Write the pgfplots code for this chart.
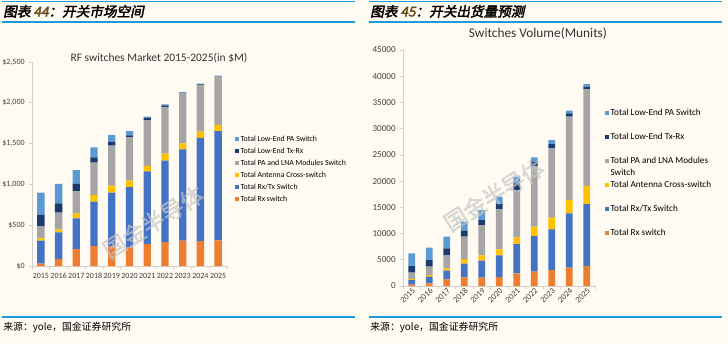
\documentclass[border=0pt]{standalone}
\usepackage{pgfplots}
\pgfplotsset{compat=1.18}
\usepackage{pgfplotstable}
\usepackage{fontspec}
\setmainfont{Carlito}
\newfontfamily\cjk{Noto Sans CJK SC}
\newfontfamily\cjkhead{Noto Sans CJK SC}[FakeSlant=0.2,FakeBold=2.5]
\newfontfamily\cjkwm{Noto Sans CJK SC}[FakeBold=2]
\definecolor{bg}{HTML}{FFFBF2}
\definecolor{hline}{HTML}{1A9BDC}
\definecolor{cRx}{HTML}{ED7D31}
\definecolor{cRxTx}{HTML}{4472C4}
\definecolor{cAnt}{HTML}{FFC000}
\definecolor{cPA}{HTML}{A5A5A5}
\definecolor{cTxRx}{HTML}{1B3A6E}
\definecolor{cLPA}{HTML}{5B9BD5}
\definecolor{axc}{HTML}{D0D0D0}
\definecolor{tickc}{HTML}{404040}
\definecolor{hnum}{HTML}{6B4A1E}

% RF switches market, $M (segment values)
\pgfplotstableread{
x Rx RxTx Ant PALNA TxRx LPA
0 30 280 30 150 140 270
1 85 328 37 203 115 237
2 208 376 61 270 90 171
3 245 543 82 396 66 122
4 240 659 85 491 49 81
5 229 739 78 531 24 53
6 270 890 66 563 29 12
7 294 997 86 572 20 12
8 310 1120 73 613 8 8
9 306 1263 77 572 8 8
10 315 1339 74 592 4 8
}\marketdata

% Switches volume, Munits (segment values)
\pgfplotstableread{
x Rx RxTx Ant PALNA TxRx LPA
0 250 894 191 1207 1272 2415
1 508 1272 318 1588 1272 2352
2 1271 1653 445 2542 1271 2225
3 1653 2606 889 4259 1144 1716
4 1589 3242 1017 5720 1017 1907
5 1716 4132 1144 7627 1017 1398
6 2415 5594 1271 8898 1398 1272
7 2733 6801 1780 11440 954 826
8 3051 7754 2225 13220 827 762
9 3496 10360 2542 15890 636 509
10 3814 11822 3432 18432 509 508
}\volumedata

\pgfplotsset{
  sw/.style={
    scale only axis, ybar stacked, xmin=-0.5, xmax=10.5, ymin=0,
    axis lines*=left, axis line style={axc, line width=0.6pt},
    tick align=outside, major tick length=2pt,
    tick style={axc, line width=0.5pt},
    xtick={-0.5,0.5,...,10.5}, xticklabels={},
    extra x ticks={0,1,2,3,4,5,6,7,8,9,10},
    extra x tick labels={2015,2016,2017,2018,2019,2020,2021,2022,2023,2024,2025},
    extra x tick style={major tick length=0pt},
    legend image code/.code={\fill[##1] (0pt,-1.5pt) rectangle (3pt,1.5pt);},
    reverse legend, legend cell align=left,
    scaled y ticks=false,
    /pgf/number format/assume math mode=true,
    ticklabel style={text=tickc},
  }
}

\begin{document}
\begin{tikzpicture}
\useasboundingbox (0,0) rectangle (546pt,258pt);
\fill[bg] (0,0) rectangle (546pt,258pt);

% header / footer rules
\foreach \yy in {256.9pt,241.5pt,20.25pt}{
  \draw[hline, line width=0.8pt] (1.5pt,\yy) -- (266.25pt,\yy);
  \draw[hline, line width=0.8pt] (276.75pt,\yy) -- (541.5pt,\yy);
}
\node[anchor=west, inner sep=0, font=\cjkhead\fontsize{10.2}{11}\selectfont] at (2.25pt,249.5pt) {图表 {\color{hnum}44}：开关市场空间};
\node[anchor=west, inner sep=0, font=\cjkhead\fontsize{10.2}{11}\selectfont] at (277.5pt,249.5pt) {图表 {\color{hnum}45}：开关出货量预测};
\node[anchor=west, inner sep=0, font=\cjk\fontsize{7.4}{8}\selectfont] at (2.25pt,12.75pt) {来源：yole，国金证券研究所};
\node[anchor=west, inner sep=0, font=\cjk\fontsize{7.4}{8}\selectfont] at (277.5pt,12.75pt) {来源：yole，国金证券研究所};

% left chart
\begin{axis}[sw, at={(24pt,58.5pt)}, anchor=south west,
  width=146.25pt, height=153pt, bar width=5.5pt,
  ymax=2500, ytick={0,500,1000,1500,2000,2500},
  yticklabels={\$0,\$500,{\$1,000},{\$1,500},{\$2,000},{\$2,500}},
  tick label style={font=\fontsize{6}{7}\selectfont},
  xticklabel style={yshift=-2pt},
  legend style={at={(1.041,0.646)}, anchor=north west, draw=none, fill=none,
    font=\fontsize{5.85}{6.5}\selectfont, inner sep=0pt, row sep=1.8pt,
    nodes={inner sep=1pt, text height=4pt, text depth=1.2pt}},
]
\addplot[fill=cRx, draw=none] table[x=x,y=Rx]{\marketdata};
\addplot[fill=cRxTx, draw=none] table[x=x,y=RxTx]{\marketdata};
\addplot[fill=cAnt, draw=none] table[x=x,y=Ant]{\marketdata};
\addplot[fill=cPA, draw=none] table[x=x,y=PALNA]{\marketdata};
\addplot[fill=cTxRx, draw=none] table[x=x,y=TxRx]{\marketdata};
\addplot[fill=cLPA, draw=none] table[x=x,y=LPA]{\marketdata};
\legend{Total Rx switch,Total Rx/Tx Switch,Total Antenna Cross-switch,Total PA and LNA Modules Switch,Total Low-End Tx-Rx,Total Low-End PA Switch}
\end{axis}
\node[anchor=base, font=\fontsize{8.6}{10}\selectfont, text=black!80] at (119.25pt,212.25pt) {RF switches Market 2015-2025(in \$M)};

% right chart
\begin{axis}[sw, at={(302.25pt,43.5pt)}, anchor=south west,
  width=144.4pt, height=177pt, bar width=5pt,
  ymax=45000, ytick={0,5000,...,45000},
  /pgf/number format/1000 sep={},
  yticklabel style={font=\fontsize{6.8}{8}\selectfont},
  xticklabel style={font=\fontsize{6.3}{7}\selectfont, rotate=45, anchor=north east, inner sep=0.5pt},
  legend style={at={(1.049,0.757)}, anchor=north west, draw=none, fill=none,
    font=\fontsize{6.9}{8}\selectfont, inner sep=0pt, row sep=9.5pt,
    nodes={inner sep=1pt, text height=5pt, text depth=1.5pt}},
]
\addplot[fill=cRx, draw=none] table[x=x,y=Rx]{\volumedata};
\addplot[fill=cRxTx, draw=none] table[x=x,y=RxTx]{\volumedata};
\addplot[fill=cAnt, draw=none] table[x=x,y=Ant]{\volumedata};
\addplot[fill=cPA, draw=none] table[x=x,y=PALNA]{\volumedata};
\addplot[fill=cTxRx, draw=none] table[x=x,y=TxRx]{\volumedata};
\addplot[fill=cLPA, draw=none] table[x=x,y=LPA]{\volumedata};
\legend{Total Rx switch,Total Rx/Tx Switch,Total Antenna Cross-switch,{\smash{\parbox[t]{90pt}{\baselineskip=9pt Total PA and LNA Modules\\Switch}}},Total Low-End Tx-Rx,Total Low-End PA Switch}
\end{axis}
\node[anchor=base, font=\fontsize{10}{12}\selectfont, text=black!80] at (403.5pt,230.25pt) {Switches Volume(Munits)};

% watermarks
\node[rotate=32, font=\cjkwm\fontsize{17}{17}\selectfont, text=gray!45, opacity=0.6] at (114.75pt,91.5pt) {国金半导体};
\node[rotate=32, font=\cjkwm\fontsize{17}{17}\selectfont, text=gray!45, opacity=0.6] at (370.5pt,111.75pt) {国金半导体};
\end{tikzpicture}
\end{document}
